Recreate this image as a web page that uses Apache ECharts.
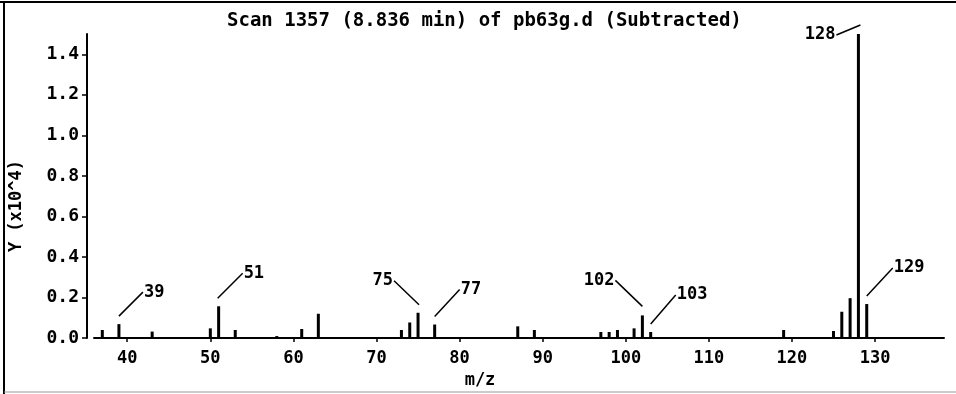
<!DOCTYPE html>
<html>
<head>
<meta charset="utf-8">
<script src="https://cdn.jsdelivr.net/npm/echarts@6/dist/echarts.min.js"></script>
<style>
  html, body { margin: 0; padding: 0; background: #fff; }
  #main { width: 956px; height: 394px; }
</style>
</head>
<body>
<div id="main"></div>
<script>
// m/z of every peak and its intensity (x10^4)
var mz = [37, 39, 43, 50, 51, 53, 58, 61, 63, 73, 74, 75, 77, 87, 89, 97, 98, 99, 101, 102, 103, 119, 125, 126, 127, 128, 129];
var intensity = [0.04, 0.069, 0.032, 0.048, 0.157, 0.04, 0.01, 0.045, 0.12, 0.04, 0.077, 0.125, 0.067, 0.058, 0.04, 0.03, 0.03, 0.04, 0.048, 0.112, 0.03, 0.04, 0.035, 0.13, 0.197, 1.5, 0.168];
// peaks that carry a label
var labelled = [39, 51, 75, 77, 102, 103, 128, 129];
var xTicks = [40, 50, 60, 70, 80, 90, 100, 110, 120, 130];
var yTicks = [0, 0.2, 0.4, 0.6, 0.8, 1.0, 1.2, 1.4];

// leader line offsets from the peak top: [x1, y1, x2, y2] in px (label sits at x2,y2)
var labelOffsets = {
    39: [0, -8, 24, -32],
    51: [-1, -8, 24, -33],
    75: [1, -8, -24, -32],
    77: [0, -8, 25, -35],
    102: [0, -9, -27, -35],
    103: [0, -8, 25, -37],
    128: [2, -9, -22, 1],
    129: [0, -8, 26, -36]
};

var font = '"DejaVu Sans Mono", monospace';

var barData = mz.map(function (m, i) { return [m, intensity[i]]; });
var labelData = barData.filter(function (d) { return labelled.indexOf(d[0]) >= 0; });

var myChart = echarts.init(document.getElementById('main'));

var option = {
    animation: false,
    backgroundColor: '#fff',
    title: {
        text: 'Scan 1357 (8.836 min) of pb63g.d (Subtracted)',
        left: 222,
        top: 7,
        textStyle: { fontFamily: font, fontSize: 19, fontWeight: 'bold', color: '#000' }
    },
    grid: { left: 91, right: 12, top: 34, bottom: 48 },
    xAxis: {
        type: 'value',
        min: 36,
        max: 138.3,
        offset: 3,
        name: 'm/z',
        nameLocation: 'middle',
        nameGap: 30,
        nameTextStyle: { fontFamily: font, fontSize: 17, fontWeight: 'bold', color: '#000', padding: [0, 78, 0, 0] },
        axisLine: { lineStyle: { color: '#000', width: 2 } },
        axisTick: { customValues: xTicks, length: 4, lineStyle: { color: '#000', width: 1.5 } },
        axisLabel: { customValues: xTicks, margin: 9, fontFamily: font, fontSize: 17, fontWeight: 'bold', color: '#000' },
        splitLine: { show: false }
    },
    yAxis: {
        type: 'value',
        min: 0,
        max: 1.5,
        offset: 7,
        name: 'Y (x10^4)',
        nameLocation: 'middle',
        nameGap: 62,
        nameTextStyle: { fontFamily: font, fontSize: 17, fontWeight: 'bold', color: '#000', padding: [0, 40, 0, 0] },
        axisLine: { show: true, lineStyle: { color: '#000', width: 2 } },
        axisTick: { show: true, customValues: yTicks, length: 5, lineStyle: { color: '#000', width: 1.5 } },
        axisLabel: {
            customValues: yTicks,
            margin: 8,
            fontFamily: font, fontSize: 18, fontWeight: 'bold', color: '#000',
            formatter: function (v) { return v.toFixed(1); }
        },
        splitLine: { show: false }
    },
    graphic: [
        { type: 'line', shape: { x1: 0, y1: 2, x2: 956, y2: 2 }, style: { stroke: '#000', lineWidth: 2 } },
        { type: 'line', shape: { x1: 4, y1: 2, x2: 4, y2: 394 }, style: { stroke: '#000', lineWidth: 2 } },
        { type: 'line', shape: { x1: 4, y1: 392, x2: 956, y2: 392 }, style: { stroke: '#999', lineWidth: 1 } }
    ],
    series: [{
        type: 'bar',
        data: barData,
        barWidth: 3,
        itemStyle: { color: '#000' }
    }, {
        type: 'custom',
        data: labelData,
        renderItem: function (params, api) {
            var m = api.value(0);
            var p = api.coord([m, api.value(1)]);
            var o = labelOffsets[m];
            var right = o[2] > 0;
            return {
                type: 'group',
                children: [{
                    type: 'line',
                    shape: { x1: p[0] + o[0], y1: p[1] + o[1], x2: p[0] + o[2], y2: p[1] + o[3] },
                    style: { stroke: '#000', lineWidth: 1.5 }
                }, {
                    type: 'text',
                    style: {
                        text: String(m),
                        x: p[0] + o[2] + (right ? 1 : -1),
                        y: p[1] + o[3],
                        align: right ? 'left' : 'right',
                        verticalAlign: 'middle',
                        font: 'bold 17px ' + font,
                        fill: '#000'
                    }
                }]
            };
        }
    }]
};

myChart.setOption(option);
</script>
</body>
</html>
